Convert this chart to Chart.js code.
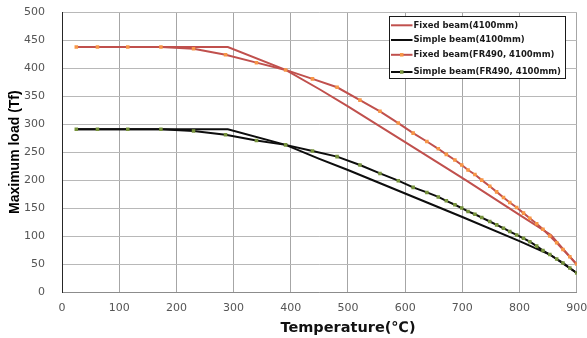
<!DOCTYPE html>
<html>
<head>
<meta charset="utf-8">
<script src="https://cdn.jsdelivr.net/npm/chart.js@4/dist/chart.umd.min.js"></script>
<style>
  html, body { margin: 0; padding: 0; background: #fff; }
  #wrap { width: 587px; height: 338px; }
</style>
</head>
<body>
<div id="wrap"><canvas id="c" width="587" height="338"></canvas></div>
<script>
// ---- data ----
const seriesNames = [
  'Fixed beam(4100mm)',
  'Simple beam(4100mm)',
  'Fixed beam(FR490, 4100mm)',
  'Simple beam(FR490, 4100mm)'
];
const xTickValues = [0, 100, 200, 300, 400, 500, 600, 700, 800, 900];
const yTickValues = [0, 50, 100, 150, 200, 250, 300, 350, 400, 450, 500];

const fixedTemp  = [25, 290, 391, 451, 500, 600, 706, 800, 855, 900];
const fixedLoad  = [438, 438, 397, 362, 332, 268, 200, 138, 102, 49];

const simpleTemp = [25, 290, 391, 450, 500, 600, 700, 800, 853, 900];
const simpleLoad = [291, 291, 263, 238, 218, 176, 134, 91, 67, 34];

const frTemp = [25, 62, 115, 173, 230, 286, 340, 391, 438, 481, 521, 556, 588, 614, 638, 658, 672, 687,
                699, 710, 722, 734, 748, 760, 772, 783, 795, 807, 818, 830, 841, 853, 865, 876, 888, 900];
const fixedFRLoad = [438, 438, 438, 438, 435, 424, 410, 397, 381, 366, 343, 323, 302, 284, 269, 256, 246, 236,
                     227, 218, 210, 200, 189, 179, 169, 160, 151, 141, 132, 122, 112, 100, 88, 76, 63, 50];
const simpleFRLoad = [291, 291, 291, 291, 288, 281, 271, 263, 252, 242, 227, 212, 199, 187, 178, 170, 163, 156,
                      150, 144, 139, 133, 126, 120, 114, 108, 102, 96, 90, 82, 74, 67, 59, 52, 43, 34];

function pts(xs, ys) { return xs.map((x, i) => ({ x: x, y: ys[i] })); }

const RED = '#C0504D', BLACK = '#0d0d0d', ORANGE = '#F79646', GREEN = '#77933C';

const datasets = [
  { label: seriesNames[0], data: pts(fixedTemp, fixedLoad), borderColor: RED, borderWidth: 2,
    pointRadius: 0, order: 1 },
  { label: seriesNames[1], data: pts(simpleTemp, simpleLoad), borderColor: BLACK, borderWidth: 2,
    pointRadius: 0, order: 1 },
  { label: seriesNames[2], data: pts(frTemp, fixedFRLoad), borderColor: RED, borderWidth: 2,
    pointRadius: 2.5, pointStyle: 'rect', pointBackgroundColor: ORANGE, pointBorderWidth: 0, order: 0 },
  { label: seriesNames[3], data: pts(frTemp, simpleFRLoad), borderColor: BLACK, borderWidth: 2,
    pointRadius: 2.5, pointStyle: 'rect', pointBackgroundColor: GREEN, pointBorderWidth: 0, order: 0 }
];

// boxed legend drawn inside the plot area, top right
const boxLegend = {
  id: 'boxLegend',
  afterDraw(chart) {
    const ctx = chart.ctx;
    const ca = chart.chartArea;
    const bx = Math.round(ca.right - 188) + 0.5, by = Math.round(ca.top + 4) + 0.5, bw = 176, bh = 62;
    ctx.save();
    ctx.fillStyle = '#ffffff';
    ctx.fillRect(bx, by, bw, bh);
    ctx.strokeStyle = '#1a1a1a';
    ctx.lineWidth = 1;
    ctx.strokeRect(bx, by, bw, bh);
    const rowY = [by + 8.8, by + 23.5, by + 38.3, by + 55.5];
    chart.data.datasets.forEach((ds, i) => {
      const y = rowY[i];
      ctx.strokeStyle = ds.borderColor;
      ctx.lineWidth = 2;
      ctx.beginPath();
      ctx.moveTo(bx + 1.5, y);
      ctx.lineTo(bx + 23, y);
      ctx.stroke();
      if (ds.pointRadius > 0) {
        ctx.fillStyle = ds.pointBackgroundColor;
        ctx.fillRect(bx + 10.5, y - 1.75, 3.5, 3.5);
      }
      ctx.fillStyle = '#1a1a1a';
      ctx.font = 'bold 8.5px "DejaVu Sans"';
      ctx.textBaseline = 'middle';
      ctx.textAlign = 'left';
      ctx.fillText(ds.label, bx + 24, y);
    });
    ctx.restore();
  }
};

// x-axis title (placed as in the original, right of centre)
const xTitle = {
  id: 'xTitle',
  afterDraw(chart) {
    const ctx = chart.ctx;
    ctx.save();
    ctx.fillStyle = '#111';
    ctx.font = 'bold 14.5px "DejaVu Sans"';
    ctx.textAlign = 'center';
    ctx.textBaseline = 'alphabetic';
    ctx.fillText('Temperature(\u2103)', 348, 332);
    ctx.restore();
  }
};

new Chart(document.getElementById('c'), {
  type: 'line',
  data: { datasets: datasets },
  options: {
    responsive: false,
    animation: false,
    devicePixelRatio: 1,
    layout: { padding: { top: 12.3, right: 10.3, left: 0, bottom: 0 } },
    elements: { line: { tension: 0, fill: false } },
    plugins: { legend: { display: false }, tooltip: { enabled: false } },
    scales: {
      x: {
        type: 'linear', min: 0, max: 900,
        afterBuildTicks: s => { s.ticks = xTickValues.map(v => ({ value: v })); },
        afterFit: s => { s.height = 46; s.paddingLeft = 0; s.paddingRight = 0; },
        ticks: { color: '#555', font: { family: 'DejaVu Sans', size: 11 }, padding: 10, maxRotation: 0 },
        grid: { color: '#a6a6a6', drawTicks: false },
        border: { color: '#8c8c8c' }
      },
      y: {
        type: 'linear', min: 0, max: 500,
        afterBuildTicks: s => { s.ticks = yTickValues.map(v => ({ value: v })); },
        afterFit: s => { s.width = 62; s.paddingTop = 0; s.paddingBottom = 0; },
        ticks: { color: '#555', font: { family: 'DejaVu Sans', size: 11 }, padding: 17 },
        grid: { color: '#b8b8b8', drawTicks: false },
        border: { color: '#262626' },
        title: { display: true, text: 'Maximum load (Tf)', color: '#000',
                 font: { family: 'Liberation Sans', size: 14, weight: 'bold' },
                 padding: { top: 6.6, bottom: 0 } }
      }
    }
  },
  plugins: [boxLegend, xTitle]
});
</script>
</body>
</html>
